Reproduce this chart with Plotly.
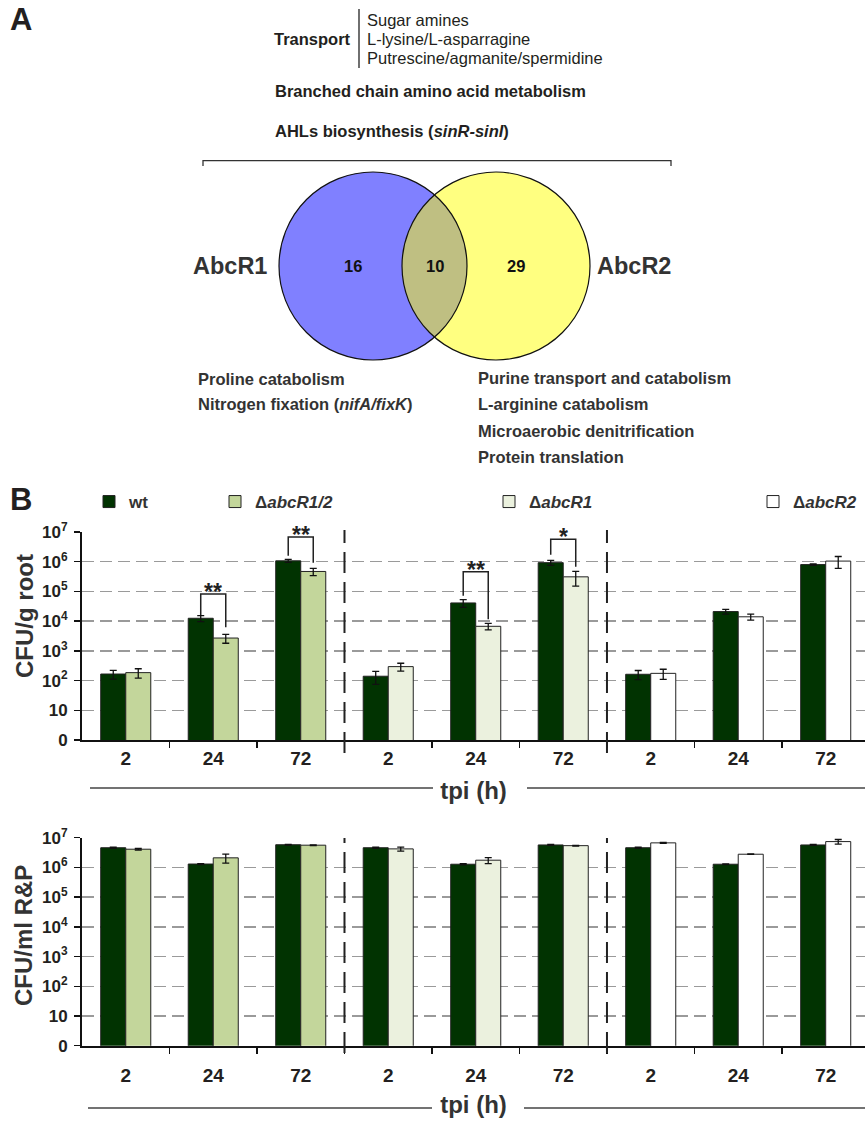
import numpy as np
import plotly.graph_objects as go

W, H = 865, 1122

# ---------------- data ----------------
tpi_labels = ["2", "24", "72", "2", "24", "72", "2", "24", "72"]
x_idx = [0, 1, 2, 3, 4, 5, 6, 7, 8]
x_r12 = [0, 1, 2]
x_r1 = [3, 4, 5]
x_r2 = [6, 7, 8]

# CFU/g root
root_wt = [166, 12500, 1.07e6, 140, 41000, 9.3e5, 163, 21000, 8.0e5]
root_wt_sd = [55, 2900, 1.2e5, 65, 12000, 1.8e5, 55, 3800, 4e4]
root_r12 = [185, 2700, 4.7e5]
root_r12_sd = [65, 900, 1.3e5]
root_r1 = [295, 6700, 3.1e5]
root_r1_sd = [88, 1650, 1.6e5]
root_r2 = [175, 14000, 1.05e6]
root_r2_sd = [65, 3100, 4.5e5]

# CFU/ml R&P
rp_wt = [4.6e6, 1.3e6, 5.8e6, 4.6e6, 1.28e6, 5.7e6, 4.6e6, 1.28e6, 5.7e6]
rp_wt_sd = [2e5, 5e4, 2e5, 2e5, 5e4, 2e5, 2e5, 4e4, 2e5]
rp_r12 = [4.1e6, 2.1e6, 5.6e6]
rp_r12_sd = [2.5e5, 7e5, 1.5e5]
rp_r1 = [4.2e6, 1.75e6, 5.4e6]
rp_r1_sd = [6.5e5, 4e5, 1.5e5]
rp_r2 = [6.7e6, 2.78e6, 7.4e6]
rp_r2_sd = [3e5, 5e4, 1.3e6]

# significance brackets (top chart)
sig_idx = [1, 2, 4, 5]
sig_top = [8.2e4, 6.8e6, 4.6e5, 5.7e6]
sig_left = [1.6e4, 1.58e6, 7.1e4, 1.7e6]
sig_right = [6.2e3, 9.3e5, 1.16e4, 6.8e5]
sig_text = ["**", "**", "**", "*"]

y_tickvals = [1, 10, 1e2, 1e3, 1e4, 1e5, 1e6, 1e7]
y_ticktext = ["0", "10", "10<sup>2</sup>", "10<sup>3</sup>", "10<sup>4</sup>",
              "10<sup>5</sup>", "10<sup>6</sup>", "10<sup>7</sup>"]

venn_names = ["AbcR1", "AbcR2"]
venn_counts = ["16", "10", "29"]
transport_items = ["Sugar amines", "L-lysine/L-asparragine", "Putrescine/agmanite/spermidine"]
shared_items = ["Branched chain amino acid metabolism",
                "AHLs biosynthesis (<i>sinR-sinI</i>)"]
r1_items = ["Proline catabolism", "Nitrogen fixation (<i>nifA/fixK</i>)"]
r2_items = ["Purine transport and catabolism", "L-arginine catabolism",
            "Microaerobic denitrification", "Protein translation"]

legend_names = ["wt", "\u0394<i>abcR1/2</i>", "\u0394<i>abcR1</i>", "\u0394<i>abcR2</i>"]

# ---------------- style ----------------
FONT = "Liberation Sans, Arial, Helvetica, sans-serif"
TXT = "#231f20"
C_WT = "#013301"
C_R12 = "#c3d69b"
C_R1 = "#ebf1de"
C_R2 = "#ffffff"
BW = 0.286


def px(x):
    return x / W


def py(y):
    return 1 - y / H


fig = go.Figure()


def add_bar(x, y, sd, color, name, xa, ya, offset, legend=None, show=False):
    fig.add_trace(go.Bar(
        x=x, y=y, name=name, xaxis=xa, yaxis=ya,
        width=BW, offset=offset,
        marker=dict(color=color, line=dict(color="#222", width=1)),
        error_y=dict(type="data", array=sd, visible=True, color="#111",
                     thickness=1.3, width=3.5),
        showlegend=show, legend=legend,
    ))


# top chart
add_bar(x_idx, root_wt, root_wt_sd, C_WT, legend_names[0], "x", "y", -BW, "legend", True)
add_bar(x_r12, root_r12, root_r12_sd, C_R12, legend_names[1], "x", "y", 0, "legend2", True)
add_bar(x_r1, root_r1, root_r1_sd, C_R1, legend_names[2], "x", "y", 0, "legend3", True)
add_bar(x_r2, root_r2, root_r2_sd, C_R2, legend_names[3], "x", "y", 0, "legend4", True)
# bottom chart
add_bar(x_idx, rp_wt, rp_wt_sd, C_WT, legend_names[0], "x2", "y2", -BW)
add_bar(x_r12, rp_r12, rp_r12_sd, C_R12, legend_names[1], "x2", "y2", 0)
add_bar(x_r1, rp_r1, rp_r1_sd, C_R1, legend_names[2], "x2", "y2", 0)
add_bar(x_r2, rp_r2, rp_r2_sd, C_R2, legend_names[3], "x2", "y2", 0)

# significance brackets
half = BW / 2
for i, t, l, r, s in zip(sig_idx, sig_top, sig_left, sig_right, sig_text):
    fig.add_trace(go.Scatter(
        x=[i - half, i - half, i + half, i + half], y=[l, t, t, r],
        mode="lines", line=dict(color="#222", width=1.5),
        showlegend=False, hoverinfo="skip", xaxis="x", yaxis="y"))
    fig.add_annotation(x=i, y=np.log10(t), xref="x", yref="y", text=s,
                       showarrow=False, yanchor="middle", yshift=2,
                       font=dict(family=FONT, size=23, color="#222", weight="bold"))

# ---------------- axes ----------------
xcommon = dict(
    domain=[px(82), 1], range=[-0.5, 8.449], tickvals=x_idx, ticktext=tpi_labels,
    ticks="", showline=True, linecolor="#111", linewidth=2, showgrid=False,
    zeroline=False, tickfont=dict(family=FONT, size=19, color=TXT, weight="bold"),
    minor=dict(tickvals=[0.5, 1.5, 2.5, 3.5, 4.5, 5.5, 6.5, 7.5], ticks="outside",
               ticklen=6, tickwidth=1.5, tickcolor="#111", showgrid=False),
    fixedrange=True,
)
ycommon = dict(
    type="log", range=[0, 7], tickvals=y_tickvals, ticktext=y_ticktext,
    ticks="outside", ticklen=6, tickwidth=1.5, tickcolor="#111",
    showline=True, linecolor="#111", linewidth=2,
    showgrid=True, gridcolor="#9a9a9a", gridwidth=1.5, griddash="12px,6px",
    zeroline=False, tickfont=dict(family=FONT, size=17, color=TXT, weight="bold"),
    ticklabelstandoff=3, fixedrange=True,
)
tfont = dict(family=FONT, size=24, color="#333", weight="bold")

fig.update_layout(
    xaxis=dict(anchor="y", ticklabelstandoff=0,
               title=dict(text="tpi (h)", font=tfont, standoff=14), **xcommon),
    yaxis=dict(anchor="x", domain=[py(740), py(532)], **ycommon),
    xaxis2=dict(anchor="y2", ticklabelstandoff=11,
                title=dict(text="tpi (h)", font=tfont, standoff=12), **xcommon),
    yaxis2=dict(anchor="x2", domain=[py(1045.7), py(837.7)], **ycommon),
)

shapes = []
# dashed separators between groups
for xs in [2.5, 5.5]:
    shapes.append(dict(type="line", xref="x", yref="paper", x0=xs, x1=xs,
                       y0=py(753), y1=py(530), line=dict(color="#222", width=2, dash="21px,9px")))
    shapes.append(dict(type="line", xref="x2", yref="paper", x0=xs, x1=xs,
                       y0=py(1053), y1=py(838), line=dict(color="#222", width=2, dash="21px,9px")))
# lines flanking "tpi (h)"
for (x0, x1, yy) in [(90, 433, 788), (527, 865, 788), (88, 432, 1108), (524, 865, 1108)]:
    shapes.append(dict(type="line", xref="paper", yref="paper", x0=px(x0), x1=px(x1),
                       y0=py(yy), y1=py(yy), line=dict(color="#444", width=1.3)))

# ---------------- panel A (Venn) ----------------
# Transport bar
shapes.append(dict(type="line", xref="paper", yref="paper", x0=px(359), x1=px(359),
                   y0=py(68), y1=py(9), line=dict(color="#222", width=1.3)))
# bracket above Venn
bracket_pts = [(203, 166), (203, 160.7), (671, 160.7), (671, 166)]
shapes.append(dict(type="path", xref="paper", yref="paper",
                   path="M" + " L".join(f"{px(a):.5f},{py(b):.5f}" for a, b in bracket_pts),
                   line=dict(color="#333", width=1.3)))

cb = (373.0, 266.0)
cyc = (496.0, 266.0)
R = 94.0
C_BLUE = "#8080ff"
C_YEL = "#ffff80"
C_LENS = "#bfbf82"


def circle_shape(c, fill, line):
    return dict(type="circle", xref="paper", yref="paper",
                x0=px(c[0] - R), x1=px(c[0] + R), y0=py(c[1] + R), y1=py(c[1] - R),
                fillcolor=fill, line=line)


shapes.append(circle_shape(cb, C_BLUE, dict(width=0)))
shapes.append(circle_shape(cyc, C_YEL, dict(width=0)))
dd = cyc[0] - cb[0]
phi = np.arccos((dd / 2) / R)
t1 = np.linspace(-phi, phi, 40)
t2 = np.linspace(np.pi - phi, np.pi + phi, 40)
lens = [(cb[0] + R * np.cos(t), cb[1] + R * np.sin(t)) for t in t1] + \
       [(cyc[0] + R * np.cos(t), cyc[1] + R * np.sin(t)) for t in t2]
shapes.append(dict(type="path", xref="paper", yref="paper",
                   path="M" + " L".join(f"{px(a):.5f},{py(b):.5f}" for a, b in lens) + " Z",
                   fillcolor=C_LENS, line=dict(width=0)))
shapes.append(circle_shape(cb, "rgba(0,0,0,0)", dict(color="#111", width=1.2)))
shapes.append(circle_shape(cyc, "rgba(0,0,0,0)", dict(color="#111", width=1.2)))

fig.update_layout(shapes=shapes)

ann = []


def txt(x, y, s, size=16.5, anchor="left", bold=False, color=TXT, **kw):
    ann.append(dict(x=px(x), y=py(y), xref="paper", yref="paper", text=s, showarrow=False,
                    xanchor=anchor, yanchor="middle",
                    font=dict(family=FONT, size=size, color=color,
                              weight="bold" if bold else "normal"), **kw))


txt(8, 19, "A", size=31, bold=True)
txt(8, 500, "B", size=31, bold=True)
txt(353, 39, "Transport", bold=True, anchor="right")
for k, s in enumerate(transport_items):
    txt(365, 20 + 18.8 * k, s)
txt(273, 91, shared_items[0], bold=True)
txt(273, 131, shared_items[1], bold=True)
txt(230, 266, venn_names[0], size=23.5, bold=True, anchor="center", color="#333")
txt(634, 266, venn_names[1], size=23.5, bold=True, anchor="center", color="#333")
for xc, s in zip([353, 435, 516], venn_counts):
    txt(xc, 266, s, size=16.5, bold=True, anchor="center", color="#111")
for k, s in enumerate(r1_items):
    txt(196, 379 + 24.5 * k, s, bold=True, color="#333")
for k, s in enumerate(r2_items):
    txt(476, 378 + 26.3 * k, s, bold=True, color="#333")

# y axis titles
ann.append(dict(x=px(24), y=py(616), xref="paper", yref="paper", text="CFU/g root",
                showarrow=False, textangle=-90, xanchor="center", yanchor="middle",
                font=dict(family=FONT, size=24, color="#333", weight="bold")))
ann.append(dict(x=px(23), y=py(936), xref="paper", yref="paper", text="CFU/ml R&P",
                showarrow=False, textangle=-90, xanchor="center", yanchor="middle",
                font=dict(family=FONT, size=24, color="#333", weight="bold")))
fig.update_layout(annotations=list(fig.layout.annotations) + ann)

# legends
leg_font = dict(family=FONT, size=17, color="#333", weight="bold")
leg_x = [89, 215, 489, 753]
leg_common = dict(xref="container", yref="container", xanchor="left", yanchor="middle",
                  orientation="h", font=leg_font, bgcolor="rgba(0,0,0,0)", borderwidth=0)
fig.update_layout(
    legend=dict(x=px(leg_x[0]), y=py(502), **leg_common),
    legend2=dict(x=px(leg_x[1]), y=py(502), **leg_common),
    legend3=dict(x=px(leg_x[2]), y=py(502), **leg_common),
    legend4=dict(x=px(leg_x[3]), y=py(502), **leg_common),
)

fig.update_layout(
    width=W, height=H, margin=dict(l=0, r=0, t=0, b=0, autoexpand=False),
    paper_bgcolor="white", plot_bgcolor="white", barmode="overlay",
    font=dict(family=FONT, color=TXT),
)

fig.write_html("out.html", config={"displayModeBar": False, "staticPlot": True},
               post_script="document.body.style.margin='0';")
